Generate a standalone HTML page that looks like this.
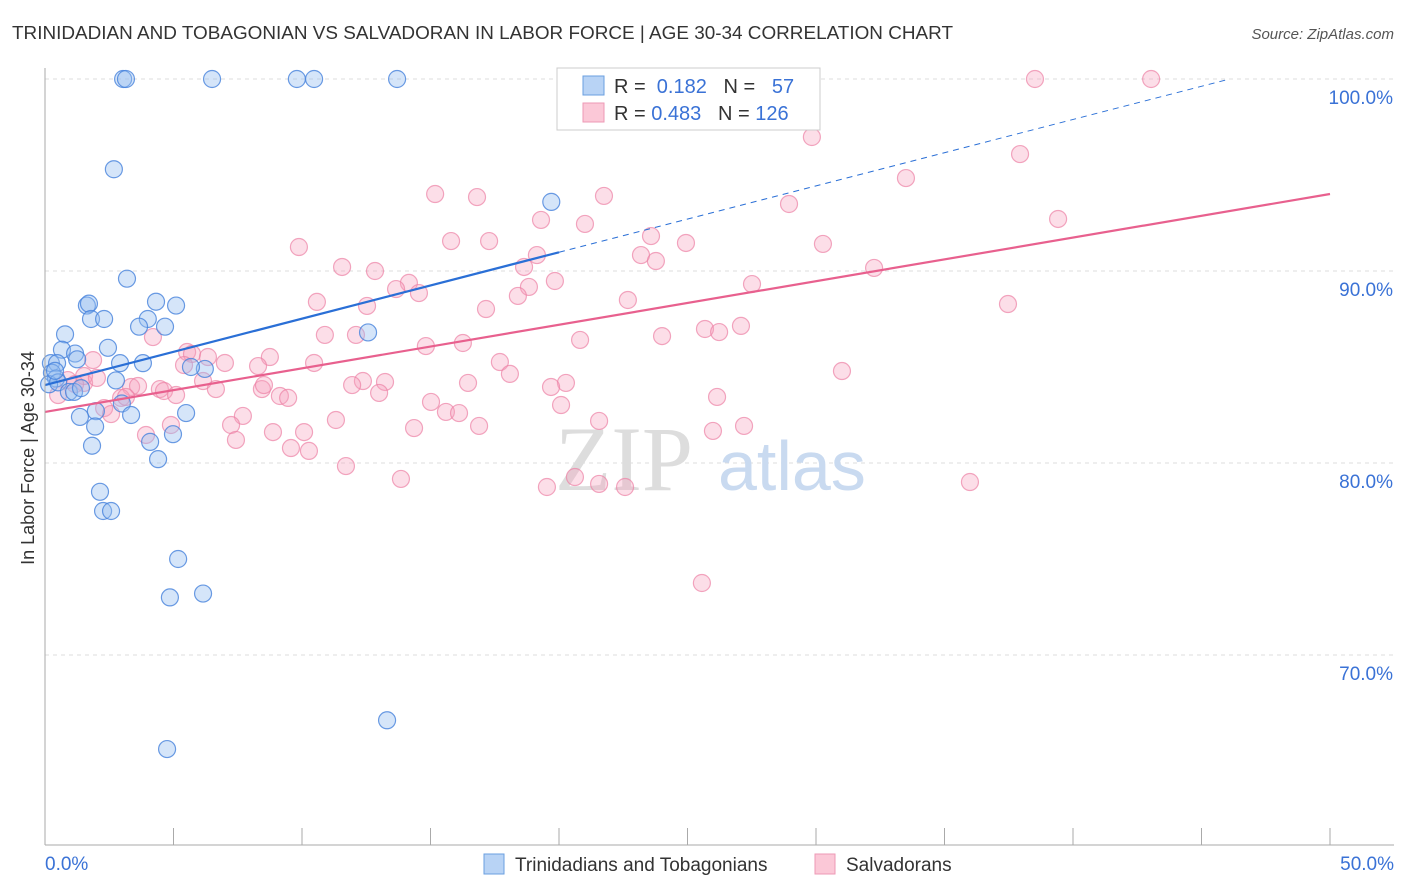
<!DOCTYPE html>
<html><head><meta charset="utf-8">
<style>
body{margin:0;background:#fff;font-family:"Liberation Sans",sans-serif;}
#c{position:absolute;left:0;top:0;}
</style></head>
<body>
<svg id="c" width="1406" height="892" xmlns="http://www.w3.org/2000/svg">
<text x="12" y="39" font-size="18" fill="#333" textLength="941" lengthAdjust="spacingAndGlyphs">TRINIDADIAN AND TOBAGONIAN VS SALVADORAN IN LABOR FORCE | AGE 30-34 CORRELATION CHART</text>
<text x="1394" y="39" font-size="15" fill="#555" text-anchor="end" font-style="italic">Source: ZipAtlas.com</text>
<text x="34" y="458" font-size="18" fill="#333" text-anchor="middle" transform="rotate(-90 34 458)">In Labor Force | Age 30-34</text>
<g id="grid"></g>
<g id="wm"><text x="555" y="490" font-size="92" fill="#ddd" font-family="Liberation Serif">ZIP</text><text x="718" y="490" font-size="70" fill="#c9daf0">atlas</text></g>
<g id="pts"></g>
<g id="lines"></g>
<g id="axes"></g>
<g>
<rect x="557" y="68" width="263" height="62" fill="#fff" stroke="#ccc"/>
<rect x="583" y="76" width="21" height="19" fill="#b8d3f5" stroke="#6a9fe0"/>
<rect x="583" y="103" width="21" height="19" fill="#fbc8d7" stroke="#ee99b5"/>
<text x="614" y="93" font-size="20" fill="#333">R = <tspan fill="#3a72d6">&#160;0.182</tspan>&#160;&#160;&#160;N = <tspan fill="#3a72d6">&#160;&#160;57</tspan></text>
<text x="614" y="120" font-size="20" fill="#333">R = <tspan fill="#3a72d6">0.483</tspan>&#160;&#160;&#160;N = <tspan fill="#3a72d6">126</tspan></text>
</g>
<g>
<rect x="484" y="854" width="20" height="20" fill="#b8d3f5" stroke="#6a9fe0"/>
<text x="515" y="871" font-size="19" fill="#333">Trinidadians and Tobagonians</text>
<rect x="815" y="854" width="20" height="20" fill="#fbc8d7" stroke="#ee99b5"/>
<text x="846" y="871" font-size="19" fill="#333">Salvadorans</text>
</g>
</svg>
<script>
const yTicks=[100,90,80,70];
const yTickLabels=["100.0%","90.0%","80.0%","70.0%"];
const xTickLabels=["0.0%","50.0%"];
const blueX=[3.04,3.15,6.5,9.8,10.47,13.7,2.68,19.7,3.19,1.63,1.71,4.32,5.1,1.79,2.3,4.0,3.66,4.67,0.78,0.66,1.17,1.25,2.45,12.57,0.23,0.47,2.92,3.81,6.22,5.68,0.27,0.43,0.16,0.51,2.76,0.93,1.13,1.4,2.99,3.35,1.98,1.36,5.49,1.95,4.09,4.98,1.83,4.4,2.14,2.26,2.57,5.18,6.15,4.86,13.31,4.75,0.39];
const blueY=[100,100,100,100,100,100,95.3,93.6,89.6,88.2,88.3,88.4,88.2,87.5,87.5,87.5,87.1,87.1,86.7,85.9,85.7,85.4,86.0,86.8,85.2,85.2,85.2,85.2,84.9,85.0,84.7,84.4,84.1,84.2,84.3,83.7,83.7,83.9,83.1,82.5,82.7,82.4,82.6,81.9,81.1,81.5,80.9,80.2,78.5,77.5,77.5,75.0,73.2,73.0,66.6,65.1,84.8];
const pinkPx=[[684,79],[1035,79],[1151,79],[812,137],[1020,154],[906,178],[435,194],[477,197],[604,196],[789,204],[1058,219],[541,220],[585,224],[651,236],[299,247],[451,241],[489,241],[686,243],[823,244],[641,255],[537,255],[656,261],[524,267],[342,267],[375,271],[874,268],[409,283],[396,289],[419,293],[529,287],[555,281],[518,296],[752,284],[317,302],[367,306],[486,309],[628,300],[1008,304],[741,326],[705,329],[719,332],[662,336],[325,335],[356,335],[580,340],[426,346],[463,343],[153,337],[187,352],[192,354],[208,357],[270,357],[500,362],[314,363],[225,363],[93,360],[184,365],[258,366],[510,374],[842,371],[468,383],[385,382],[363,381],[352,385],[566,383],[551,387],[203,381],[84,383],[131,387],[138,386],[160,389],[164,391],[262,389],[216,389],[280,396],[288,398],[379,393],[176,395],[264,385],[58,395],[121,398],[126,397],[717,397],[431,402],[446,412],[459,413],[561,405],[104,408],[111,414],[243,416],[599,421],[336,420],[231,425],[171,425],[479,426],[414,428],[304,432],[273,432],[146,435],[713,431],[744,426],[236,440],[291,448],[309,451],[346,466],[401,479],[575,477],[547,487],[599,484],[625,487],[970,482],[702,583],[84,376],[97,378],[68,380],[75,384]];
const pinkX=pinkPx.map(p=>+((p[0]-45)/25.7).toFixed(2));
const pinkY=pinkPx.map(p=>+(100-(p[1]-79)/19.2).toFixed(2));
const blueTrend=[84.06,0.3458]; // intercept, slope per pct
const pinkTrend=[82.66,0.227];
const X=v=>45+v*25.7, Y=v=>79+(100-v)*19.2;
const ns="http://www.w3.org/2000/svg";
function mk(t,a,p){const e=document.createElementNS(ns,t);for(const k in a)e.setAttribute(k,a[k]);p.appendChild(e);return e;}
const grid=document.getElementById('grid');
yTicks.forEach((t,i)=>{
 const l=mk('line',{x1:45,x2:1394,y1:Y(t),y2:Y(t),stroke:'#ddd','stroke-dasharray':'4,4'},grid);
 
 
 const tx=mk('text',{x:1393,y:Y(t)+25,'font-size':19,fill:'#3a72d6','text-anchor':'end'},grid);
 tx.textContent=yTickLabels[i];
 
 
});
const axes=document.getElementById('axes');
mk('line',{x1:45,x2:45,y1:68,y2:845,stroke:'#aaa'},axes);
mk('line',{x1:45,x2:1394,y1:845,y2:845,stroke:'#aaa'},axes);
for(let i=0;i<=10;i++){const t=mk('line',{x1:X(i*5),x2:X(i*5),y1:828,y2:845,stroke:'#aaa'},axes);
 
 }
[[0,'start',45],[50,'end',1394]].forEach((d,i)=>{const t=mk('text',{x:d[2],y:870,'font-size':19,fill:'#3a72d6','text-anchor':d[1]},axes);t.textContent=xTickLabels[i];
 
 });
const pts=document.getElementById('pts');
pinkX.forEach((x,i)=>{const c=mk('circle',{cx:X(x),cy:Y(pinkY[i]),r:8.5,fill:'rgba(246,160,190,0.35)',stroke:'rgba(236,130,165,0.7)','stroke-width':1.2},pts);
 
 });
blueX.forEach((x,i)=>{const c=mk('circle',{cx:X(x),cy:Y(blueY[i]),r:8.5,fill:'rgba(150,190,240,0.4)',stroke:'rgba(70,130,220,0.8)','stroke-width':1.2},pts);
 
 });
const lines=document.getElementById('lines');
const bl=mk('line',{x1:X(0),y1:Y(blueTrend[0]),x2:X(20),y2:Y(blueTrend[0]+20*blueTrend[1]),stroke:'#2a6fd6','stroke-width':2.2},lines);


const xe=(100-blueTrend[0])/blueTrend[1];
const bd=mk('line',{x1:X(20),y1:Y(blueTrend[0]+20*blueTrend[1]),x2:X(xe),y2:Y(100),stroke:'#2a6fd6','stroke-width':1,'stroke-dasharray':'6,5'},lines);


const pl=mk('line',{x1:X(0),y1:Y(pinkTrend[0]),x2:X(50),y2:Y(pinkTrend[0]+50*pinkTrend[1]),stroke:'#e8608e','stroke-width':2.2},lines);


</script>
</body></html>
